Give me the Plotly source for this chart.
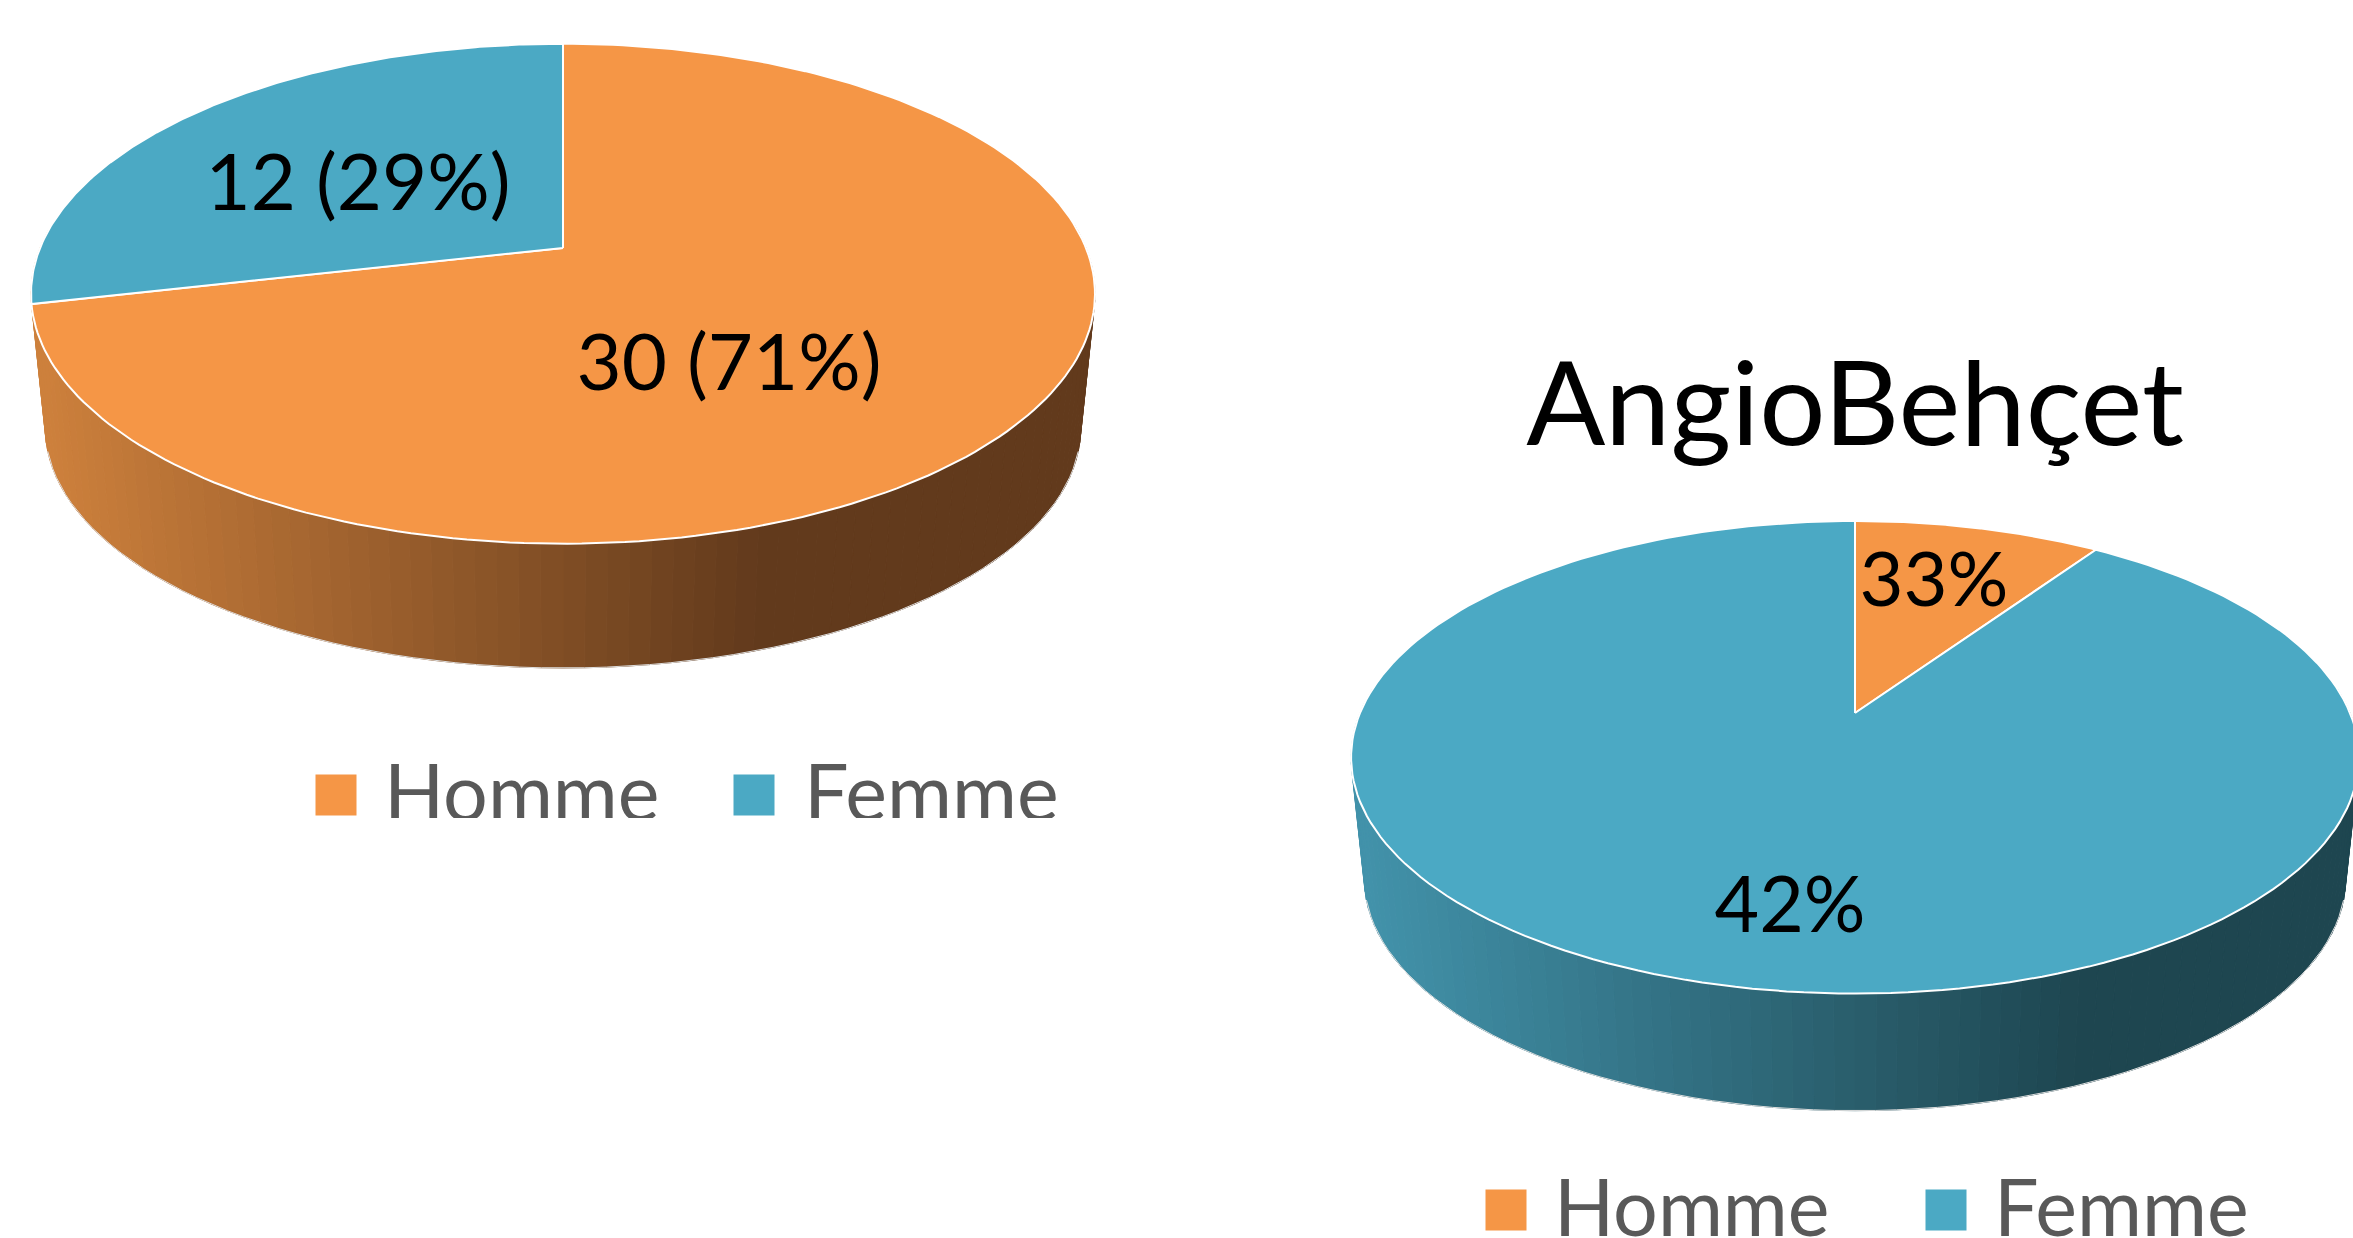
import numpy as np
import plotly.graph_objects as go

# ---- data ----
categories = ["Homme", "Femme"]
left_values = [30, 12]
left_labels = ["30 (71%)", "12 (29%)"]
right_values = [9.5, 90.5]          # slice sizes
right_labels = ["33%", "42%"]
right_title = "AngioBehçet"

ORANGE = "#F59646"
BLUE = "#4BA9C4"
W, H = 2353, 1238
FONT = "Lato"


def lerp_hex(c0, c1, t):
    t = max(0.0, min(1.0, t))
    return "rgb(%d,%d,%d)" % tuple(round(a + (b - a) * t) for a, b in zip(c0, c1))


def project(theta, p):
    u, v = np.sin(theta), np.cos(theta)
    d = 1 + p["k"] * v
    return p["cx"] + p["B"] * u / d, p["cy"] - p["a"] * v / d


def draw_pie(fig, values, colors, top, low, wall_light, wall_dark, grad_x0, grad_x1):
    # side wall, one facet per step along the front rim
    th = np.radians(np.arange(84, 277, 2.0))
    for t0, t1 in zip(th[:-1], th[1:]):
        xt0, yt0 = project(t0, top)
        xt1, yt1 = project(t1, top)
        xb0, yb0 = project(t0, low)
        xb1, yb1 = project(t1, low)
        c = lerp_hex(wall_light, wall_dark, ((xt0 + xt1) / 2 - grad_x0) / (grad_x1 - grad_x0))
        fig.add_trace(go.Scatter(x=[xt0, xt1, xb1, xb0, xt0], y=[yt0, yt1, yb1, yb0, yt0],
                                 mode="lines", fill="toself", fillcolor=c,
                                 line=dict(color=c, width=1), hoverinfo="skip"))
    # thin light outline round the bottom rim
    tb = np.radians(np.arange(106, 255, 2.0))
    xb, yb = project(tb, low)
    fig.add_trace(go.Scatter(x=xb, y=yb, mode="lines",
                             line=dict(color="#DDDDDD", width=1), hoverinfo="skip"))
    # top face slices
    total = sum(values)
    start = 0.0
    for val, col in zip(values, colors):
        end = start + val / total * 2 * np.pi
        t = np.linspace(start, end, 200)
        x, y = project(t, top)
        x = np.concatenate([[top["cx"]], x, [top["cx"]]])
        y = np.concatenate([[top["cy"]], y, [top["cy"]]])
        fig.add_trace(go.Scatter(x=x, y=y, mode="lines", fill="toself", fillcolor=col,
                                 line=dict(color="white", width=2), hoverinfo="skip"))
        start = end


fig = go.Figure()

draw_pie(fig, left_values, [ORANGE, BLUE],
         dict(cx=563, cy=248, a=241.6, B=523, k=0.183),
         dict(cx=563, cy=384, a=232, B=509, k=0.183),
         (205, 128, 60), (98, 58, 28), 40, 760)

draw_pie(fig, right_values, [ORANGE, BLUE],
         dict(cx=1855, cy=713, a=228, B=495, k=0.1874),
         dict(cx=1855, cy=835, a=224, B=482, k=0.1874),
         (66, 146, 170), (30, 70, 80), 1360, 2080)

# data labels
def add_text(x, y, text, size, color="black"):
    fig.add_trace(go.Scatter(x=[x], y=[y], mode="text", text=[text], textposition="middle center",
                             textfont=dict(family=FONT, size=size, color=color),
                             hoverinfo="skip", cliponaxis=False))

add_text(358, 190, left_labels[1], 78)
add_text(729, 370, left_labels[0], 78)
add_text(1934, 587, right_labels[0], 76)
add_text(1790, 913, right_labels[1], 77)
add_text(1855, 416, right_title, 117)

# legends
def add_legend(x_sq, x_tx, y_sq, y_tx):
    for xs, xt, name, col in zip(x_sq, x_tx, categories, [ORANGE, BLUE]):
        fig.add_trace(go.Scatter(x=[xs], y=[y_sq], mode="markers",
                                 marker=dict(symbol="square", size=41, color=col, line=dict(width=0)),
                                 hoverinfo="skip"))
        fig.add_trace(go.Scatter(x=[xt], y=[y_tx], mode="text", text=[name], textposition="middle right",
                                 textfont=dict(family=FONT, size=79, color="#595959"),
                                 hoverinfo="skip"))

add_legend([336, 754], [384, 804], 795, 801)
add_legend([1506, 1946], [1554, 1994], 1210, 1216)

fig.update_layout(
    width=W, height=H, margin=dict(l=0, r=0, t=0, b=0), showlegend=False,
    paper_bgcolor="white", plot_bgcolor="white",
    xaxis=dict(range=[0, W], visible=False, fixedrange=True),
    yaxis=dict(range=[H, 0], visible=False, fixedrange=True),
    # the left legend text is cut off along its lower edge in the source
    shapes=[dict(type="rect", layer="above", xref="x", yref="y", x0=250, x1=1150, y0=818, y1=870,
                 fillcolor="white", line=dict(width=0))],
)
fig.write_html("out.html", config={"displayModeBar": False},
               post_script="document.body.style.margin='0';document.documentElement.style.overflow='hidden';")
